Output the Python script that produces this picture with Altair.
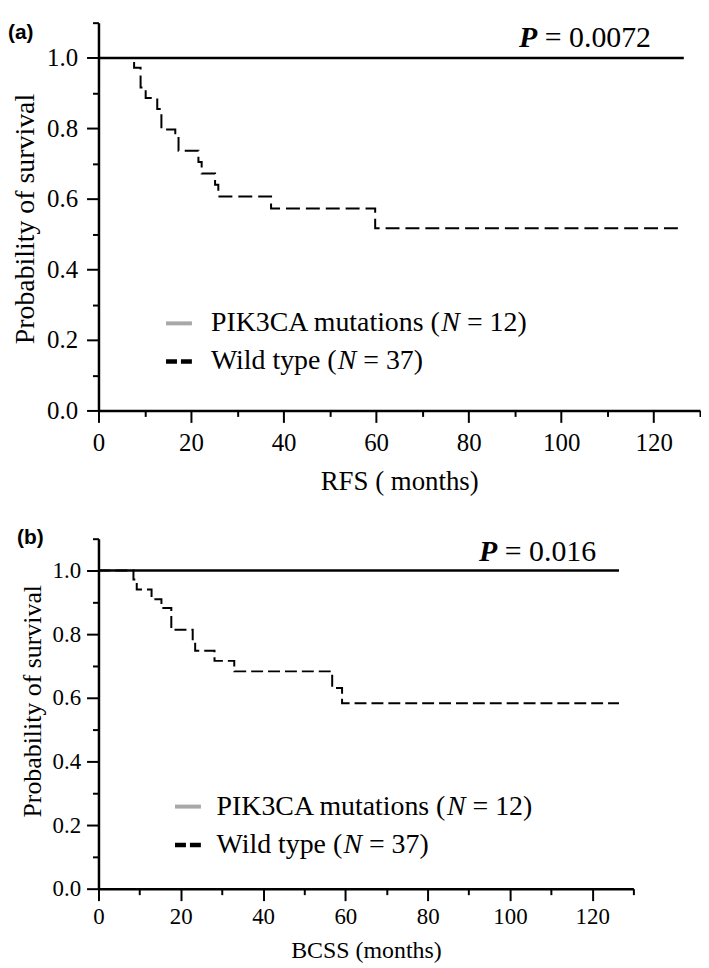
import altair as alt
import pandas as pd

# ---------------- data ----------------
# (a) Relapse-free survival, wild type (step curve)
a_time = [0, 7.7, 9.1, 10.2, 12.7, 13.6, 16.6, 17.3, 21.6, 22.3, 25.2, 25.9, 37.3, 59.8, 126.5]
a_wild = [1.0, 0.972, 0.916, 0.886, 0.855, 0.797, 0.780, 0.737, 0.705, 0.672, 0.640, 0.607, 0.573, 0.517, 0.517]
# (b) Breast-cancer-specific survival, wild type
b_time = [0, 8.5, 9.3, 12.9, 15.3, 17.7, 22.9, 23.5, 28.2, 33.0, 56.8, 59.2, 126.5]
b_wild = [1.0, 0.972, 0.940, 0.910, 0.882, 0.814, 0.778, 0.748, 0.716, 0.683, 0.631, 0.583, 0.583]
# PIK3CA mutations: no events
mut_time = [0, 126.5]
mut_surv = [1.0, 1.0]

x_ticks = list(range(0, 131, 10))
y_ticks = [round(i * 0.1, 1) for i in range(12)]

legend_mut = ["PIK3CA mutations (", "N", " = 12)"]
legend_wild = ["Wild type (", "N", " = 37)"]
p_values = [" = 0.0072", " = 0.016"]
x_titles = ["RFS ( months)", "BCSS (months)"]
tags = ["(a)", "(b)"]
y_title = "Probability of survival"

SERIF = "Liberation Serif"

# layout / style settings per panel
cfgs = [
    dict(w=605, h=390, lab=25, ttl=27, ytl=28, leg=28, pfs=30, tick=12, mtick=6,
         lpad=9, xlpad=8, xtpad=14, titlex=-65, titley=197, tagx=-91, tagy=10.5,
         dash=[14, 6], lx=(14.6, 20.2), ltx=24.3, ly=(0.247, 0.139), px=90.9, py=1.032),
    dict(w=538, h=352, lab=23, ttl=24, ytl=26, leg=28, pfs=30, tick=12, mtick=6,
         lpad=6, xlpad=5, xtpad=10, titlex=-58, titley=163, tagx=-82, tagy=-1,
         dash=[12, 5], lx=(18.6, 24.9), ltx=28.7, ly=(0.258, 0.137), px=92.5, py=1.030),
]

WIDTHS = {"P": .556, "I": .333, "K": .722, "3": .5, "C": .667, "A": .722, " ": .25,
          "m": .778, "u": .5, "t": .278, "a": .444, "i": .278, "o": .5, "n": .5,
          "s": .389, "(": .333, ")": .333, "W": .944, "l": .278, "d": .5, "y": .5,
          "p": .5, "e": .444, "=": .564, ".": .25}


def text_width(s, size, italic=False):
    total = 0
    for ch in s:
        if ch == "N":
            total += .667 if italic else .722
        else:
            total += WIDTHS.get(ch, .5)
    return total * size


def panel(i, time, surv):
    c = cfgs[i]
    xs = alt.Scale(domain=[0, 130], nice=False)
    ys = alt.Scale(domain=[0, 1.1], nice=False)
    xaxis = alt.Axis(
        values=x_ticks, labelExpr="datum.value % 20 === 0 ? datum.label : ''",
        tickSize={"condition": {"test": "datum.value % 20 === 0", "value": c["tick"]}, "value": c["mtick"]},
        grid=False, labelFlush=False, labelOverlap=False, labelFont=SERIF, labelFontSize=c["lab"],
        labelColor="black", labelPadding=c["xlpad"], domainColor="black", domainWidth=2.5,
        tickColor="black", tickWidth=2, title=x_titles[i], titleFont=SERIF, titleFontSize=c["ttl"],
        titleFontWeight="normal", titleColor="black", titlePadding=c["xtpad"])
    yaxis = alt.Axis(
        values=y_ticks, labelExpr="round(datum.value*10) % 2 === 0 ? format(datum.value, '.1f') : ''",
        tickSize={"condition": {"test": "round(datum.value*10) % 2 === 0", "value": c["tick"]}, "value": c["mtick"]},
        grid=False, labelOverlap=False, labelFont=SERIF, labelFontSize=c["lab"], labelColor="black",
        labelPadding=c["lpad"], domainColor="black", domainWidth=2.5, tickColor="black", tickWidth=2,
        title=y_title, titleFont=SERIF, titleFontSize=c["ytl"], titleFontWeight="normal",
        titleColor="black", titleX=c["titlex"], titleY=c["titley"], titleAngle=270,
        titleAlign="center", titleBaseline="alphabetic")
    X = alt.X("t:Q", scale=xs, axis=xaxis)
    Y = alt.Y("s:Q", scale=ys, axis=yaxis)

    mut = alt.Chart(pd.DataFrame({"t": mut_time, "s": mut_surv})).mark_line(
        color="black", strokeWidth=2.5).encode(x=X, y=Y)
    wild = alt.Chart(pd.DataFrame({"t": time, "s": surv})).mark_line(
        color="black", strokeWidth=2, strokeDash=c["dash"], interpolate="step-after").encode(x=X, y=Y)

    leg1 = alt.Chart(pd.DataFrame({"t": [c["lx"][0]], "t2": [c["lx"][1]], "s": [c["ly"][0]]})).mark_rule(
        color="#a8a8a8", strokeWidth=4).encode(x=X, x2="t2:Q", y=Y)
    leg2 = alt.Chart(pd.DataFrame({"t": [c["lx"][0]], "t2": [c["lx"][1]], "s": [c["ly"][1]]})).mark_rule(
        color="black", strokeWidth=4.5, strokeDash=[11, 4]).encode(x=X, x2="t2:Q", y=Y)

    layers = [mut, wild, leg1, leg2]
    for segs, ly in ((legend_mut, c["ly"][0]), (legend_wild, c["ly"][1])):
        df = pd.DataFrame({"t": [c["ltx"]], "s": [ly]})
        dx = 0.0
        for k, s in enumerate(segs):
            ital = (k == 1)
            body = s.lstrip(" ")
            dx += text_width(s[: len(s) - len(body)], c["leg"])
            layers.append(alt.Chart(df).mark_text(
                text=body, dx=dx, align="left", baseline="middle", font=SERIF, fontSize=c["leg"],
                fontStyle="italic" if ital else "normal", color="black").encode(x=X, y=Y))
            dx += text_width(body, c["leg"], ital)

    pdf = pd.DataFrame({"t": [c["px"]], "s": [c["py"]]})
    layers.append(alt.Chart(pdf).mark_text(
        text="P", align="left", baseline="alphabetic", font=SERIF, fontSize=c["pfs"],
        fontStyle="italic", fontWeight="bold", color="black").encode(x=X, y=Y))
    rest = p_values[i].lstrip(" ")
    layers.append(alt.Chart(pdf).mark_text(
        text=rest, dx=(0.611 + 0.25) * c["pfs"], align="left", baseline="alphabetic", font=SERIF,
        fontSize=c["pfs"], color="black").encode(x=X, y=Y))

    layers.append(alt.Chart(pd.DataFrame({"k": [0]})).mark_text(
        text=tags[i], align="left", baseline="middle", font="Liberation Sans", fontSize=21,
        fontWeight="bold", color="black").encode(x=alt.value(c["tagx"]), y=alt.value(c["tagy"])))

    return alt.layer(*layers).properties(width=c["w"], height=c["h"])


chart = alt.vconcat(panel(0, a_time, a_wild), panel(1, b_time, b_wild), spacing=32).properties(
    padding={"left": 0, "right": 0, "top": 0, "bottom": 0}
).configure_view(stroke=None)

chart.save("out.html", embed_options={"renderer": "svg", "actions": False})
